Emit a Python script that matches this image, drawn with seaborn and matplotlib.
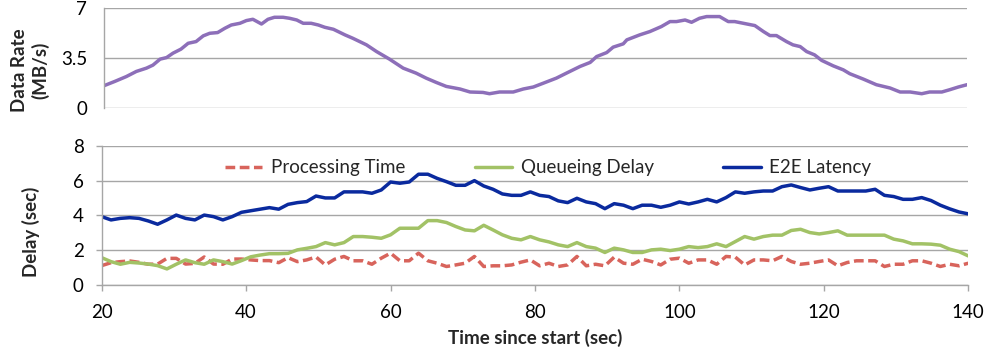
import numpy as np
import pandas as pd
import matplotlib
matplotlib.use("Agg")
import matplotlib.pyplot as plt
import seaborn as sns

sns.set_theme(style="white")
plt.rcParams['font.family'] = ['Lato', 'DejaVu Sans']

# ---------------- data ----------------
time_s = np.linspace(20, 140, 94)

processing_time = [1.09, 1.26, 1.32, 1.36, 1.28, 1.17, 1.18, 1.51, 1.51, 1.18, 1.22, 1.59, 1.18, 1.17, 1.47, 1.47,
                   1.42, 1.38, 1.38, 1.26, 1.55, 1.32, 1.42, 1.59,
                   1.13, 1.46, 1.62, 1.37, 1.37, 1.17, 1.52, 1.81, 1.37, 1.37, 1.81, 1.37, 1.23, 1.04, 1.13, 1.23,
                   1.62, 1.04, 1.08, 1.08, 1.13, 1.29, 1.42, 1.08, 1.23, 1.04, 1.13, 1.62, 1.08, 1.17, 1.08, 1.58,
                   1.23, 1.17,
                   1.46, 1.33, 1.13, 1.46, 1.52, 1.23, 1.42, 1.42, 1.17, 1.62, 1.58, 1.13, 1.42, 1.42, 1.37, 1.62,
                   1.33, 1.17, 1.23, 1.33, 1.42, 1.08, 1.27, 1.37, 1.37, 1.37, 1.04, 1.17, 1.17, 1.37, 1.37, 1.23,
                   1.04, 1.17, 1.08, 1.23]

queueing_delay = [1.55, 1.32, 1.17, 1.28, 1.24, 1.18, 1.09, 0.9, 1.17, 1.42, 1.26, 1.17, 1.42, 1.32, 1.18, 1.38,
                  1.6, 1.7, 1.78, 1.78, 1.8, 2.0, 2.09, 2.19,
                  2.42, 2.29, 2.42, 2.77, 2.77, 2.73, 2.67, 2.87, 3.25, 3.25, 3.25, 3.69, 3.69, 3.58, 3.35, 3.15,
                  3.1, 3.42, 3.15, 2.87, 2.67, 2.58, 2.77, 2.58, 2.46, 2.29, 2.19, 2.42, 2.19, 2.1, 1.85, 2.1,
                  2.0, 1.85,
                  1.85, 2.0, 2.04, 1.96, 2.04, 2.19, 2.13, 2.19, 2.35, 2.19, 2.48, 2.77, 2.62, 2.77, 2.85, 2.85,
                  3.12, 3.19, 3.0, 2.92, 3.0, 3.1, 2.85, 2.85, 2.85, 2.85, 2.85, 2.62, 2.52, 2.35, 2.35, 2.33,
                  2.27, 2.04, 1.9, 1.65]

e2e_latency = [3.92, 3.73, 3.82, 3.86, 3.82, 3.67, 3.48, 3.73, 4.01, 3.82, 3.73, 4.01, 3.92, 3.73, 3.92, 4.17,
               4.26, 4.35, 4.44, 4.35, 4.63, 4.73, 4.79, 5.11,
               5.0, 5.0, 5.35, 5.35, 5.35, 5.27, 5.46, 5.92, 5.85, 5.92, 6.37, 6.37, 6.13, 5.94, 5.73, 5.73,
               6.0, 5.69, 5.5, 5.23, 5.15, 5.15, 5.35, 5.15, 5.08, 4.83, 4.73, 4.98, 4.77, 4.67, 4.38, 4.67,
               4.58, 4.38,
               4.58, 4.58, 4.46, 4.58, 4.77, 4.65, 4.77, 4.92, 4.77, 5.02, 5.35, 5.27, 5.35, 5.4, 5.4, 5.65,
               5.75, 5.6, 5.46, 5.56, 5.65, 5.4, 5.4, 5.4, 5.4, 5.5, 5.15, 5.08, 4.92, 4.92, 5.02, 4.85,
               4.58, 4.37, 4.19, 4.08]

rate_time = [20.0, 21.5, 23.1, 24.5, 25.9, 26.8, 27.8, 28.7, 29.6, 30.7, 31.7, 32.8, 33.8, 34.7, 35.8, 36.8,
             37.7, 38.9, 39.8, 40.7, 41.9, 42.8, 43.7, 44.9, 45.8, 46.8, 47.7, 48.8, 49.8,
             50.7, 51.9, 53.5, 54.6, 56.5, 57.9, 59.7, 61.6, 63.4, 64.8, 66.2, 67.6, 69.5, 70.9, 72.7, 73.6,
             75.0, 76.9, 78.3, 79.7, 81.1, 82.9, 84.3, 86.2, 87.6, 88.5, 89.9, 90.8, 92.2, 92.7,
             94.5, 95.9, 97.5, 98.7, 99.6, 100.8, 101.7, 102.8, 103.8, 105.6, 106.8, 107.7, 108.9, 110.5,
             111.7, 112.6, 113.5, 114.9, 115.8, 116.8, 117.7, 118.8, 119.8, 121.4, 122.8, 123.7, 125.6,
             127.4, 129.3, 130.7, 132.1, 133.7, 134.8, 136.5, 137.6, 138.8, 140.0]
data_rate = [1.56, 1.86, 2.2, 2.56, 2.79, 3.0, 3.42, 3.53, 3.84, 4.12, 4.53, 4.65, 5.05, 5.23, 5.28, 5.58,
             5.81, 5.93, 6.12, 6.21, 5.88, 6.21, 6.35, 6.35, 6.28, 6.16, 5.93, 5.93, 5.81,
             5.65, 5.51, 5.12, 4.88, 4.42, 3.95, 3.42, 2.79, 2.44, 2.09, 1.79, 1.51, 1.33, 1.12, 1.09, 1.0,
             1.12, 1.12, 1.33, 1.47, 1.74, 2.09, 2.44, 2.91, 3.19, 3.6, 3.88, 4.26, 4.49, 4.77,
             5.12, 5.35, 5.7, 6.05, 6.05, 6.16, 6.0, 6.28, 6.4, 6.4, 6.05, 6.05, 5.93, 5.77,
             5.35, 5.07, 5.07, 4.65, 4.42, 4.3, 3.95, 3.72, 3.33, 2.95, 2.67, 2.4, 2.02,
             1.63, 1.4, 1.12, 1.12, 1.0, 1.12, 1.12, 1.28, 1.47, 1.63]

rate_ticks = [0, 3.5, 7]
rate_tick_labels = ["0", "3.5", "7"]
delay_ticks = [0, 2, 4, 6, 8]
time_ticks = [20, 40, 60, 80, 100, 120, 140]

series_names = ["Processing Time", "Queueing Delay", "E2E Latency"]
delay_df = pd.DataFrame({"time": np.tile(time_s, 3),
                         "value": processing_time + queueing_delay + e2e_latency,
                         "series": np.repeat(series_names, len(time_s))})
rate_df = pd.DataFrame({"time": rate_time, "rate": data_rate})

# ---------------- style ----------------
GRID = "#A6A6A6"
C_RATE = "#8D6FB9"
C_PROC = "#D8645C"
C_QUEUE = "#A2C266"
C_E2E = "#0A2A9E"
FS = 13.5
LW = 2.5

fig = plt.figure(figsize=(9.87, 3.53), dpi=100)
W, H = 987.0, 353.0
ax1 = fig.add_axes([104 / W, 1 - 108 / H, (967 - 104) / W, 100 / H])
ax2 = fig.add_axes([101.7 / W, 1 - 284.5 / H, (968.3 - 101.7) / W, 138.5 / H])

# top panel
sns.lineplot(data=rate_df, x="time", y="rate", ax=ax1, color=C_RATE, linewidth=LW, legend=False)
ax1.set_xlim(20, 140)
ax1.set_ylim(0, 7)
ax1.set_yticks(rate_ticks)
ax1.set_yticklabels(rate_tick_labels)
ax1.set_xticks([])
ax1.set_xlabel("")
ax1.set_ylabel("")
ax1.yaxis.grid(True, color=GRID, linewidth=1.0)
ax1.set_axisbelow(True)
for s in ["top", "right", "bottom"]:
    ax1.spines[s].set_visible(False)
ax1.spines["left"].set_color(GRID)
ax1.spines["left"].set_linewidth(1.0)
ax1.tick_params(axis="y", length=0, pad=12, labelsize=FS, colors="black")

# bottom panel
colors = {"Processing Time": C_PROC, "Queueing Delay": C_QUEUE, "E2E Latency": C_E2E}
for name in series_names:
    sub = delay_df[delay_df["series"] == name]
    sns.lineplot(data=sub, x="time", y="value", ax=ax2, color=colors[name],
                 linewidth=LW, label=name)
    if name == "Processing Time":
        ln = ax2.lines[-1]
        ln.set_dashes((2.8, 1.3))
        ln.set_dash_capstyle("butt")

ax2.set_xlim(20, 140)
ax2.set_ylim(0, 8)
ax2.set_yticks(delay_ticks)
ax2.set_xticks(time_ticks)
ax2.set_xlabel("")
ax2.set_ylabel("")
ax2.yaxis.grid(True, color=GRID, linewidth=1.0)
ax2.set_axisbelow(True)
for s in ["top", "right"]:
    ax2.spines[s].set_visible(False)
for s in ["left", "bottom"]:
    ax2.spines[s].set_color(GRID)
    ax2.spines[s].set_linewidth(1.0)
ax2.tick_params(axis="both", which="major", direction="out", length=4, width=1.0,
                color=GRID, labelsize=FS, labelcolor="black")
ax2.tick_params(axis="y", pad=9)
ax2.tick_params(axis="x", pad=10)
ax2.tick_params(left=True, bottom=True)

leg = ax2.legend(loc="center left", bbox_to_anchor=((225 - 101.7) / 866.6, (284.5 - 168) / 138.5),
                 ncol=3, frameon=False, fontsize=FS, handlelength=2.0, handletextpad=0.45,
                 columnspacing=3.7, borderpad=0, borderaxespad=0)

# axis titles
fig.text(535 / W, 1 - 338 / H, "Time since start (sec)", ha="center", va="center",
         fontsize=FS, fontweight="bold")
fig.text(31 / W, 1 - 232 / H, "Delay (sec)", ha="center", va="center", rotation=90,
         fontsize=FS, fontweight="bold")
fig.text(30 / W, 1 - 70 / H, "Data Rate\n(MB/s)", ha="center", va="center", rotation=90,
         fontsize=FS, fontweight="bold", linespacing=1.2)

fig.savefig("out.png", dpi=100)
